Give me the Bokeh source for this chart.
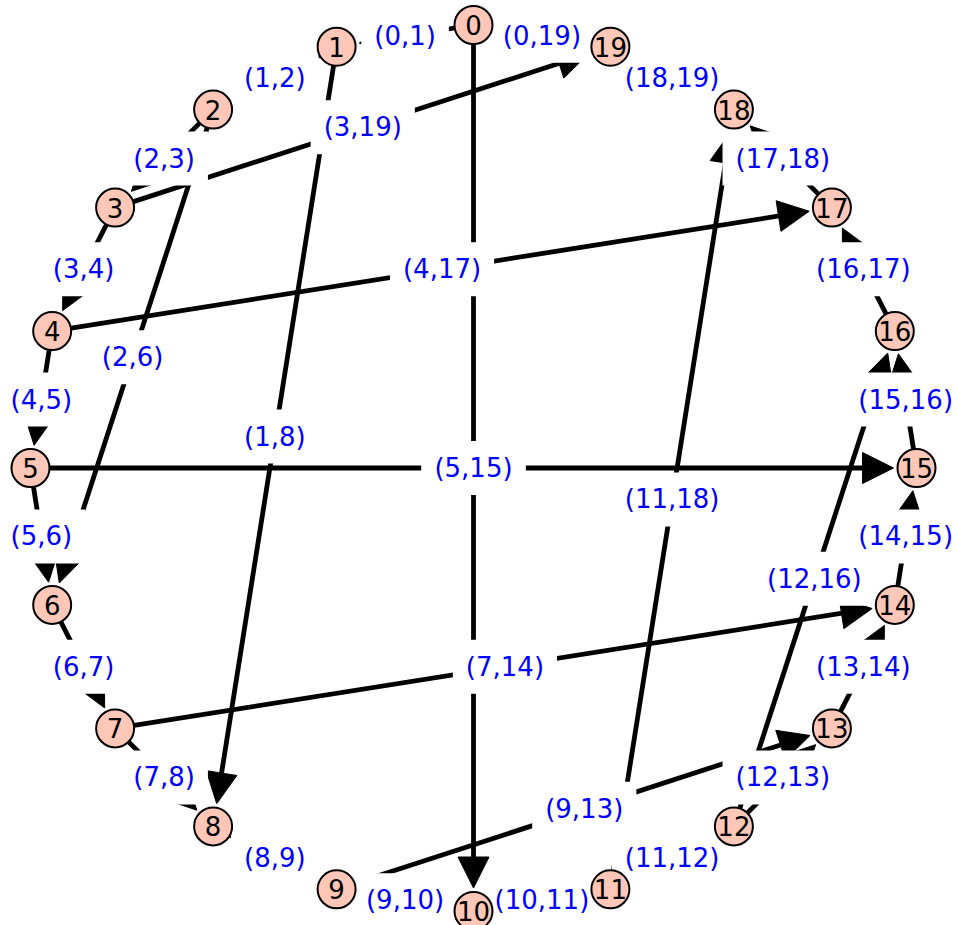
import numpy as np
from bokeh.plotting import figure
from bokeh.models import Range1d, ColumnDataSource, Arrow, NormalHead
from bokeh.core.properties import value
from bokeh.embed import file_html
from bokeh.resources import INLINE

# ---- data: directed graph on 20 vertices (circular layout) ----
vertex_labels = [str(i) for i in range(20)]
edge_src = [0, 0, 0, 1, 1, 2, 2, 3, 3, 4, 4, 5, 5, 6, 7, 7, 8, 9, 9, 10,
            11, 11, 12, 12, 13, 14, 15, 16, 17, 18]
edge_dst = [1, 19, 10, 2, 8, 3, 6, 4, 19, 5, 17, 6, 15, 7, 8, 14, 9, 10, 13, 11,
            12, 18, 13, 16, 14, 15, 16, 17, 18, 19]
edge_labels = [f"({u},{v})" for u, v in zip(edge_src, edge_dst)]

# ---- layout ----
PX = 443.0  # pixels per layout unit
n = len(vertex_labels)
ang = np.pi / 2 + 2 * np.pi * np.arange(n) / n
vx = np.cos(ang)
vy = np.sin(ang)

W, H = 956, 925
cx_px, cy_px = 473.0, 467.5
p = figure(width=W, height=H,
           x_range=Range1d(-cx_px / PX, (W - cx_px) / PX),
           y_range=Range1d(-(H - cy_px) / PX, cy_px / PX),
           output_backend="svg", toolbar_location=None,
           x_axis_location=None, y_axis_location=None,
           min_border=0, outline_line_color=None)
p.grid.visible = False
p.background_fill_color = "white"

# edges with arrow heads
xs, ys, xe, ye, mx, my = [], [], [], [], [], []
for u, v in zip(edge_src, edge_dst):
    dx, dy = vx[v] - vx[u], vy[v] - vy[u]
    L = np.hypot(dx, dy)
    ux, uy = dx / L, dy / L
    xs.append(vx[u]); ys.append(vy[u])
    xe.append(vx[v] - ux * 23 / PX); ye.append(vy[v] - uy * 23 / PX)
    mx.append((vx[u] + vx[v]) / 2); my.append((vy[u] + vy[v]) / 2)

esrc = ColumnDataSource(dict(xs=xs, ys=ys, xe=xe, ye=ye))
arrows = Arrow(end=NormalHead(size=31, fill_color="black", line_color="black", line_width=1),
               x_start="xs", y_start="ys", x_end="xe", y_end="ye", source=esrc,
               line_width=4.8, line_color="black", level="underlay")
p.add_layout(arrows)

# edge labels with white boxes
lsrc = ColumnDataSource(dict(x=mx, y=my, t=edge_labels))
p.text(x="x", y="y", text="t", source=lsrc,
       text_font=value("DejaVu Sans"), text_font_size="26px", text_color="#0000ff",
       text_align="center", text_baseline="middle",
       background_fill_color="white", padding=dict(x=13, y=12))

# vertices
vsrc = ColumnDataSource(dict(x=vx, y=vy, t=vertex_labels))
p.scatter(x="x", y="y", source=vsrc, size=38, fill_color="#fec7b8",
          line_color="black", line_width=2)
p.text(x="x", y="y", text="t", source=vsrc,
       text_font=value("DejaVu Sans"), text_font_size="26px", text_color="black",
       text_align="center", text_baseline="middle")

open("out.html", "w").write(file_html(p, INLINE))
